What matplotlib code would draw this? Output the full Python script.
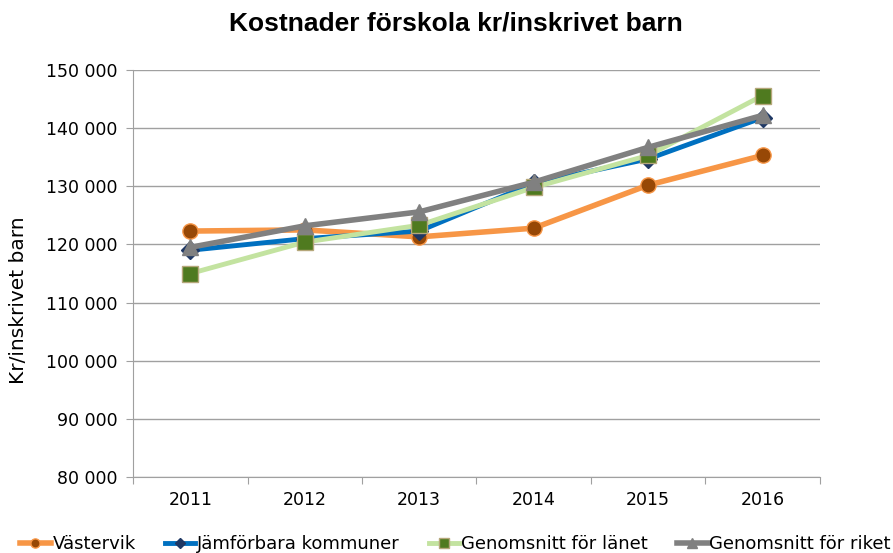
import numpy as np
import matplotlib.pyplot as plt
from matplotlib.ticker import FuncFormatter

# Data
years = ['2011', '2012', '2013', '2014', '2015', '2016']
vastervik = [122300, 122500, 121300, 122800, 130200, 135300]
jamforbara = [119000, 121000, 122300, 130500, 134700, 141800]
lanet = [115000, 120400, 123300, 129800, 135300, 145600]
riket = [119500, 123200, 125600, 130700, 136700, 142200]

plt.rcParams['font.family'] = ['DejaVu Sans']

fig = plt.figure(figsize=(8.93, 5.53), dpi=100)
ax = fig.add_axes([0.149, 0.1374, 0.769, 0.736])

x = np.arange(len(years))

ax.plot(x, vastervik, color='#F79646', lw=4, marker='o', ms=11,
        mfc='#974806', mec='#F79646', mew=1, label='Västervik', zorder=3)
ax.plot(x, jamforbara, color='#0070C0', lw=3.5, marker='D', ms=9,
        mfc='#1F3864', mec='#1F3864', label='Jämförbara kommuner', zorder=4)
ax.plot(x, lanet, color='#C3E3A0', lw=3.5, marker='s', ms=11,
        mfc='#4F7A1F', mec='#B5A77A', mew=1, label='Genomsnitt för länet', zorder=5)
ax.plot(x, riket, color='#808080', lw=4, marker='^', ms=11,
        mfc='#808080', mec='#808080', label='Genomsnitt för riket', zorder=6)

ax.set_xlim(-0.5, len(years) - 0.5)
ax.set_ylim(80000, 150000)
ax.set_yticks(np.arange(80000, 150001, 10000))
ax.yaxis.set_major_formatter(FuncFormatter(lambda v, p: f'{int(v):,}'.replace(',', ' ')))

# category labels centred, tick marks between categories
ax.set_xticks(np.arange(-0.5, len(years), 1.0))
ax.set_xticklabels([])
ax.set_xticks(x, minor=True)
ax.set_xticklabels(years, minor=True)
ax.tick_params(axis='x', which='minor', length=0, pad=10, labelsize=12.5)
ax.tick_params(axis='x', which='major', length=5, color='#A0A0A0', direction='out')
ax.tick_params(axis='y', length=5, color='#A0A0A0', labelsize=12.5, pad=6)

ax.grid(axis='y', color='#A0A0A0', lw=1)
ax.set_axisbelow(True)
for s in ['top', 'right']:
    ax.spines[s].set_visible(False)
for s in ['left', 'bottom']:
    ax.spines[s].set_color('#A0A0A0')

ax.set_ylabel('Kr/inskrivet barn', fontsize=14.5)
ax.yaxis.set_label_coords(-0.153, 0.435)
fig.suptitle('Kostnader förskola kr/inskrivet barn', x=0.51, y=0.98,
             fontsize=19, fontweight='bold', family='Liberation Sans')

fig.legend(loc='lower center', bbox_to_anchor=(0.51, -0.03), ncol=4, frameon=False,
           fontsize=13, handlelength=1.7, handletextpad=0.1, columnspacing=1.6,
           markerscale=0.6)

fig.savefig('out.png', dpi=100)
